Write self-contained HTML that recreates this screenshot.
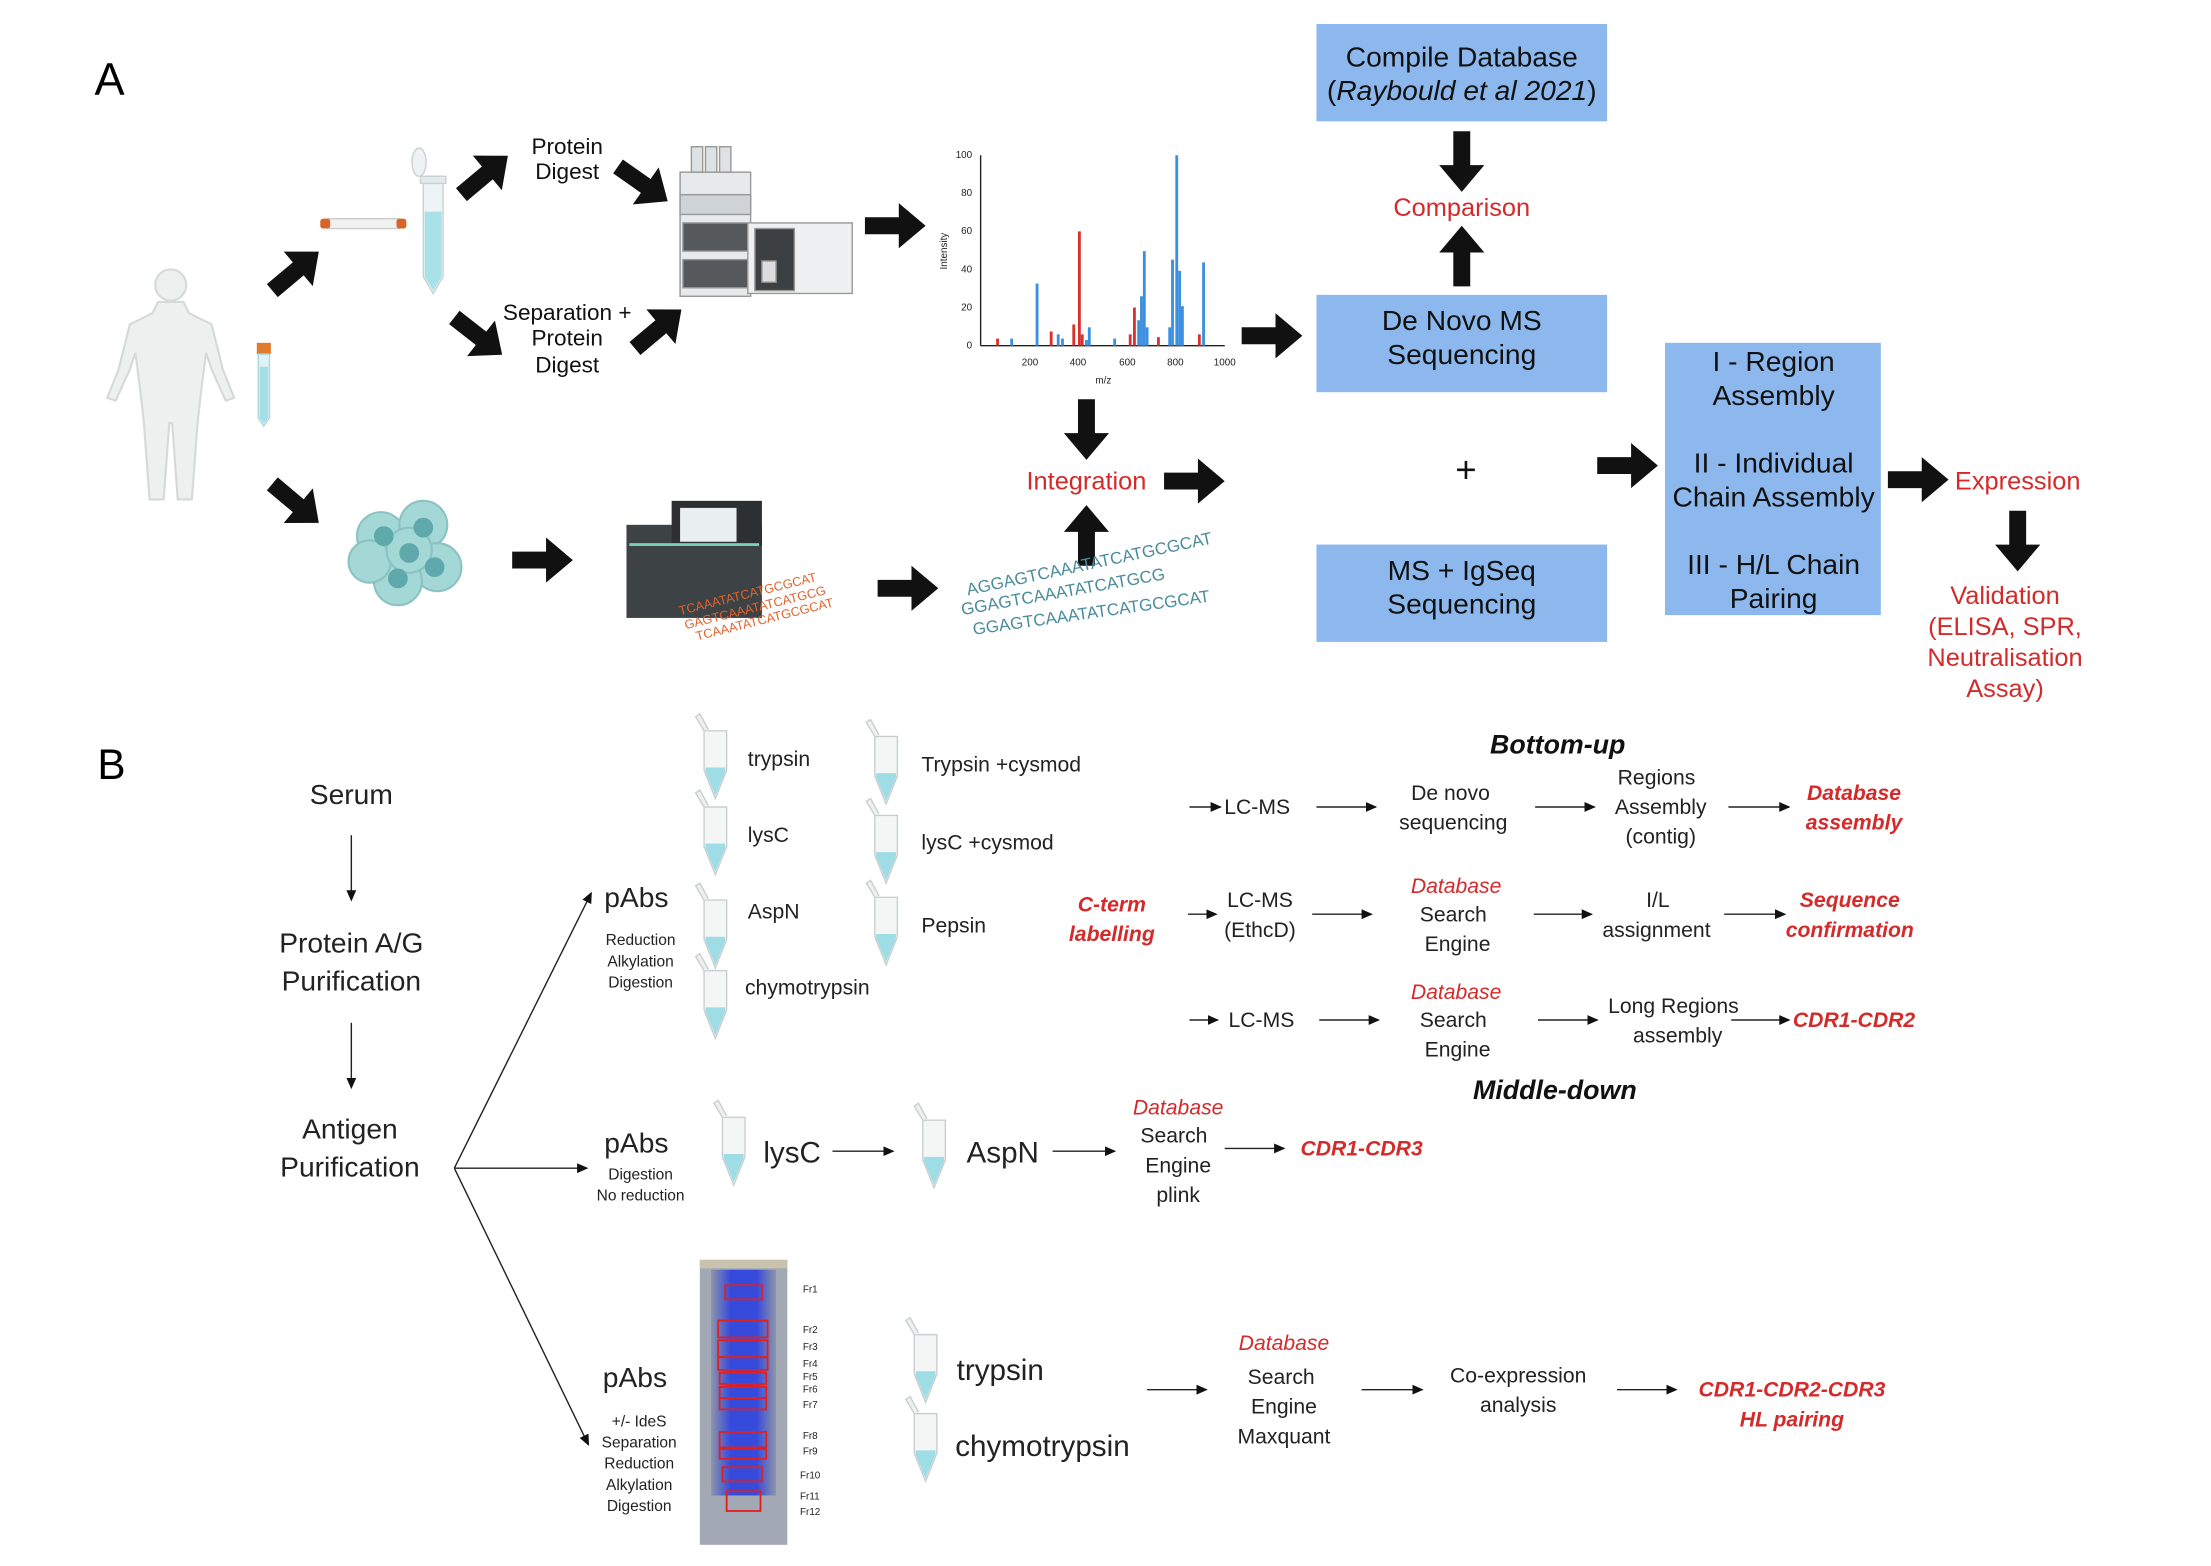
<!DOCTYPE html>
<html><head><meta charset="utf-8"><style>
html,body{margin:0;padding:0;background:#fff}
svg{display:block}
text{font-family:"Liberation Sans",sans-serif}
</style></head><body>
<svg width="2211" height="1566" viewBox="0 0 1567 1110" preserveAspectRatio="none" xmlns="http://www.w3.org/2000/svg">
<defs>
<path id="fa" d="M0,-6 L24,-6 L24,-16 L43,0 L24,16 L24,6 L0,6 Z" fill="#111"/>
<marker id="ah" markerWidth="8" markerHeight="8" refX="7" refY="4" orient="auto" markerUnits="userSpaceOnUse"><path d="M0,0.5 L8,4 L0,7.5 Z" fill="#111"/></marker>
<g id="tube">
<path d="M-8,0 L8,0 L8,28 L0,48 L-8,28 Z" fill="#f4f6f6" stroke="#c9cfd0" stroke-width="1"/>
<path d="M-7,26 L7,26 L7,29 L0,46 L-7,29 Z" fill="#9fdde6"/>
<path d="M-8,0 L-14,-10 L-11,-12 L-5,-1" fill="#eef0f0" stroke="#c9cfd0" stroke-width="1"/>
</g>
</defs>
<rect width="1567" height="1110" fill="#fff"/>

<!-- ===== A ===== -->
<text x="67" y="67" font-size="32">A</text>
<g fill="#eef0f0" stroke="#d5d9da" stroke-width="1.5">
<circle cx="121" cy="202" r="11"/>
<path d="M112,214 L130,214 L134,222 L150,230 L158,262 L166,282 L160,284 L150,262 L146,250 L142,282 L140,300 L136,354 L126,354 L122,300 L120,300 L116,354 L106,354 L102,300 L100,282 L96,250 L92,262 L82,284 L76,282 L84,262 L92,230 L108,222 Z"/>
</g>
<rect x="182" y="243" width="10" height="8" fill="#e07a2e"/>
<path d="M183,251 L191,251 L191,296 L187,302 L183,296 Z" fill="#dff3f6" stroke="#a9d9e0"/>
<path d="M184,260 L190,260 L190,296 L187,300 L184,296 Z" fill="#a4dde6"/>
<rect x="230" y="155" width="55" height="7" rx="3" fill="#f1f1f1" stroke="#ccc"/>
<rect x="227" y="155" width="7" height="7" rx="2" fill="#d8642a"/>
<rect x="281" y="155" width="7" height="7" rx="2" fill="#d8642a"/>
<path d="M300,125 L314,125 L314,196 L307,208 L300,196 Z" fill="#eef4f5" stroke="#c8d2d4"/>
<path d="M301,150 L313,150 L313,196 L307,206 L301,196 Z" fill="#a9e1e8"/>
<path d="M298,125 L316,125 L316,130 L298,130 Z" fill="#e6e9ea" stroke="#c8d2d4"/>
<ellipse cx="297" cy="115" rx="5" ry="10" fill="#eef2f3" stroke="#c8d2d4"/>
<use href="#fa" transform="translate(193,206) rotate(-40)"/>
<use href="#fa" transform="translate(327,138) rotate(-40)"/>
<use href="#fa" transform="translate(438,118) rotate(35)"/>
<use href="#fa" transform="translate(322,225) rotate(38)"/>
<use href="#fa" transform="translate(450,247) rotate(-40)"/>
<use href="#fa" transform="translate(193,343) rotate(40)"/>
<use href="#fa" transform="translate(613,160)"/>
<use href="#fa" transform="translate(880,238)"/>
<use href="#fa" transform="translate(363,397)"/>
<use href="#fa" transform="translate(622,417)"/>
<use href="#fa" transform="translate(825,341)"/>
<use href="#fa" transform="translate(1132,330)"/>
<use href="#fa" transform="translate(1338,340)"/>
<use href="#fa" transform="translate(770,283) rotate(90)"/>
<use href="#fa" transform="translate(770,401) rotate(-90)"/>
<use href="#fa" transform="translate(1036,93) rotate(90)"/>
<use href="#fa" transform="translate(1036,203) rotate(-90)"/>
<use href="#fa" transform="translate(1430,362) rotate(90)"/>

<g font-size="16" text-anchor="middle" fill="#111">
<text x="402" y="109">Protein</text><text x="402" y="127">Digest</text>
<text x="402" y="227">Separation +</text><text x="402" y="245">Protein</text><text x="402" y="264">Digest</text>
</g>
<g stroke="#999" stroke-width="1">
<rect x="482" y="122" width="50" height="88" fill="#e7e9ea"/>
<rect x="482" y="138" width="50" height="14" fill="#cfd3d5"/>
<rect x="484" y="158" width="46" height="20" fill="#55595c"/>
<rect x="484" y="184" width="46" height="20" fill="#55595c"/>
<rect x="530" y="158" width="74" height="50" fill="#eef0f1"/>
<rect x="535" y="162" width="28" height="44" fill="#3c4043"/>
<rect x="540" y="185" width="10" height="15" fill="#ddd"/>
<rect x="490" y="104" width="8" height="18" fill="#dde3e5"/><rect x="500" y="104" width="8" height="18" fill="#dde3e5"/><rect x="510" y="104" width="8" height="18" fill="#dde3e5"/>
</g>
<g font-size="7" fill="#222">
<line x1="695" y1="110" x2="695" y2="245" stroke="#222"/>
<line x1="695" y1="245" x2="868" y2="245" stroke="#222"/>
<text x="689" y="112" text-anchor="end">100</text><text x="689" y="139" text-anchor="end">80</text><text x="689" y="166" text-anchor="end">60</text><text x="689" y="193" text-anchor="end">40</text><text x="689" y="220" text-anchor="end">20</text><text x="689" y="247" text-anchor="end">0</text>
<text x="730" y="259" text-anchor="middle">200</text><text x="764" y="259" text-anchor="middle">400</text><text x="799" y="259" text-anchor="middle">600</text><text x="833" y="259" text-anchor="middle">800</text><text x="868" y="259" text-anchor="middle">1000</text>
<text x="782" y="272" text-anchor="middle">m/z</text>
<text transform="translate(671,178) rotate(-90)" text-anchor="middle">Intensity</text>
</g>
<g stroke-width="2">
<g stroke="#3b8fe0">
<line x1="717" y1="245" x2="717" y2="240"/><line x1="735" y1="245" x2="735" y2="201"/><line x1="750" y1="245" x2="750" y2="237"/><line x1="753" y1="245" x2="753" y2="240"/><line x1="770" y1="245" x2="770" y2="241"/><line x1="790" y1="245" x2="790" y2="240"/><line x1="807" y1="245" x2="807" y2="227"/><line x1="809" y1="245" x2="809" y2="210"/><line x1="811" y1="245" x2="811" y2="178"/><line x1="813" y1="245" x2="813" y2="232"/><line x1="829" y1="245" x2="829" y2="232"/><line x1="831" y1="245" x2="831" y2="184"/><line x1="834" y1="245" x2="834" y2="110"/><line x1="836" y1="245" x2="836" y2="192"/><line x1="838" y1="245" x2="838" y2="217"/><line x1="853" y1="245" x2="853" y2="186"/><line x1="772" y1="245" x2="772" y2="232"/>
</g>
<g stroke="#d9302a">
<line x1="707" y1="245" x2="707" y2="240"/><line x1="745" y1="245" x2="745" y2="235"/><line x1="761" y1="245" x2="761" y2="230"/><line x1="765" y1="245" x2="765" y2="164"/><line x1="767" y1="245" x2="767" y2="237"/><line x1="801" y1="245" x2="801" y2="237"/><line x1="804" y1="245" x2="804" y2="218"/><line x1="821" y1="245" x2="821" y2="239"/><line x1="850" y1="245" x2="850" y2="237"/>
</g>
</g>
<g fill="#8cb8ee">
<rect x="933" y="17" width="206" height="69"/>
<rect x="933" y="209" width="206" height="69"/>
<rect x="933" y="386" width="206" height="69"/>
<rect x="1180" y="243" width="153" height="193"/>
</g>
<g font-size="20" text-anchor="middle" fill="#111">
<text x="1036" y="47">Compile Database</text>
<text x="1036" y="71">(<tspan font-style="italic">Raybould et al 2021</tspan>)</text>
<text x="1036" y="234">De Novo MS</text><text x="1036" y="258">Sequencing</text>
<text x="1036" y="411">MS + IgSeq</text><text x="1036" y="435">Sequencing</text>
<text x="1257" y="263">I - Region</text><text x="1257" y="287">Assembly</text>
<text x="1257" y="335">II - Individual</text><text x="1257" y="359">Chain Assembly</text>
<text x="1257" y="407">III - H/L Chain</text><text x="1257" y="431">Pairing</text>
<text x="1039" y="342" font-size="26">+</text>
</g>
<g font-size="18" text-anchor="middle" fill="#d42a2a">
<text x="1036" y="153">Comparison</text>
<text x="770" y="347">Integration</text>
<text x="1430" y="347">Expression</text>
<text x="1421" y="428">Validation</text><text x="1421" y="450">(ELISA, SPR,</text><text x="1421" y="472">Neutralisation</text><text x="1421" y="494">Assay)</text>
</g>
<g fill="#9ad4d2" stroke="#7fbcbc" stroke-width="1.5" opacity="0.9">
<circle cx="270" cy="380" r="17"/><circle cx="300" cy="372" r="17"/><circle cx="310" cy="402" r="17"/><circle cx="282" cy="412" r="17"/><circle cx="262" cy="398" r="15"/><circle cx="290" cy="390" r="16"/>
</g>
<g fill="#5fa9ad"><circle cx="272" cy="380" r="7"/><circle cx="300" cy="374" r="7"/><circle cx="308" cy="402" r="7"/><circle cx="282" cy="410" r="7"/><circle cx="290" cy="392" r="7"/></g>
<rect x="444" y="372" width="96" height="66" fill="#3d4245"/>
<rect x="476" y="355" width="64" height="32" fill="#2c3032"/>
<rect x="482" y="360" width="40" height="24" fill="#e9eef0"/>
<rect x="446" y="385" width="92" height="2" fill="#7bd1b8"/>
<g font-size="9" fill="#e2622c" font-family="Liberation Mono,monospace">
<text transform="translate(482,436) rotate(-14)">TCAAATATCATGCGCAT</text>
<text transform="translate(486,446) rotate(-14)">GAGTCAAATATCATGCG</text>
<text transform="translate(494,454) rotate(-14)">TCAAATATCATGCGCAT</text>
</g>
<g font-size="12" fill="#4a8c9c" font-family="Liberation Mono,monospace">
<text transform="translate(686,422) rotate(-12)">AGGAGTCAAATATCATGCGCAT</text>
<text transform="translate(682,436) rotate(-10)">GGAGTCAAATATCATGCG</text>
<text transform="translate(690,450) rotate(-8)">GGAGTCAAATATCATGCGCAT</text>
</g>

<!-- ===== B ===== -->
<text x="69" y="552" font-size="30">B</text>
<g font-size="20" text-anchor="middle" fill="#222">
<text x="249" y="570">Serum</text>
<text x="249" y="675">Protein A/G</text><text x="249" y="702">Purification</text>
<text x="248" y="807">Antigen</text><text x="248" y="834">Purification</text>
</g>
<g stroke="#222" stroke-width="1" fill="none" marker-end="url(#ah)">
<line x1="249" y1="592" x2="249" y2="638"/>
<line x1="249" y1="725" x2="249" y2="771"/>
<line x1="322" y1="828" x2="419" y2="633"/>
<line x1="322" y1="828" x2="416" y2="828"/>
<line x1="322" y1="828" x2="417" y2="1024"/>
<line x1="843" y1="572" x2="865" y2="572"/><line x1="933" y1="572" x2="975" y2="572"/><line x1="1088" y1="572" x2="1130" y2="572"/><line x1="1225" y1="572" x2="1268" y2="572"/>
<line x1="842" y1="648" x2="862" y2="648"/><line x1="930" y1="648" x2="972" y2="648"/><line x1="1087" y1="648" x2="1128" y2="648"/><line x1="1222" y1="648" x2="1265" y2="648"/>
<line x1="843" y1="723" x2="863" y2="723"/><line x1="935" y1="723" x2="977" y2="723"/><line x1="1090" y1="723" x2="1132" y2="723"/><line x1="1227" y1="723" x2="1268" y2="723"/>
<line x1="590" y1="816" x2="633" y2="816"/><line x1="746" y1="816" x2="790" y2="816"/><line x1="868" y1="814" x2="910" y2="814"/>
<line x1="813" y1="985" x2="855" y2="985"/><line x1="965" y1="985" x2="1008" y2="985"/><line x1="1146" y1="985" x2="1188" y2="985"/>
</g>
<use href="#tube" transform="translate(507,518)"/>
<use href="#tube" transform="translate(507,572)"/>
<use href="#tube" transform="translate(507,638)"/>
<use href="#tube" transform="translate(507,688)"/>
<use href="#tube" transform="translate(628,522)"/>
<use href="#tube" transform="translate(628,578)"/>
<use href="#tube" transform="translate(628,636)"/>
<use href="#tube" transform="translate(520,792)"/>
<use href="#tube" transform="translate(662,794)"/>
<use href="#tube" transform="translate(656,946)"/>
<use href="#tube" transform="translate(656,1002)"/>

<g fill="#222" text-anchor="middle">
<text x="451" y="643" font-size="20">pAbs</text>
<text x="454" y="670" font-size="11">Reduction</text><text x="454" y="685" font-size="11">Alkylation</text><text x="454" y="700" font-size="11">Digestion</text>
<text x="451" y="817" font-size="20">pAbs</text>
<text x="454" y="836" font-size="11">Digestion</text><text x="454" y="851" font-size="11">No reduction</text>
<text x="450" y="983" font-size="20">pAbs</text>
<text x="453" y="1011" font-size="11">+/- IdeS</text><text x="453" y="1026" font-size="11">Separation</text><text x="453" y="1041" font-size="11">Reduction</text><text x="453" y="1056" font-size="11">Alkylation</text><text x="453" y="1071" font-size="11">Digestion</text>
</g>
<g fill="#222" font-size="15">
<text x="530" y="543">trypsin</text><text x="653" y="547">Trypsin +cysmod</text>
<text x="530" y="597">lysC</text><text x="653" y="602">lysC +cysmod</text>
<text x="530" y="651">AspN</text><text x="653" y="661">Pepsin</text>
<text x="528" y="705">chymotrypsin</text>
<text x="541" y="824" font-size="21">lysC</text><text x="685" y="824" font-size="21">AspN</text>
<text x="678" y="978" font-size="21">trypsin</text><text x="677" y="1032" font-size="21">chymotrypsin</text>
</g>
<g fill="#222" font-size="15" text-anchor="middle">
<text x="891" y="577">LC-MS</text>
<text x="1028" y="567">De novo</text><text x="1030" y="588">sequencing</text>
<text x="1174" y="556">Regions</text><text x="1177" y="577">Assembly</text><text x="1177" y="598">(contig)</text>
<text x="893" y="643">LC-MS</text><text x="893" y="664">(EthcD)</text>
<text x="1030" y="653">Search</text><text x="1033" y="674">Engine</text>
<text x="1175" y="643">I/L</text><text x="1174" y="664">assignment</text>
<text x="894" y="728">LC-MS</text>
<text x="1030" y="728">Search</text><text x="1033" y="749">Engine</text>
<text x="1186" y="718">Long Regions</text><text x="1189" y="739">assembly</text>
<text x="832" y="810">Search</text><text x="835" y="831">Engine</text><text x="835" y="852">plink</text>
<text x="908" y="981">Search</text><text x="910" y="1002">Engine</text><text x="910" y="1023">Maxquant</text>
<text x="1076" y="980">Co-expression</text><text x="1076" y="1001">analysis</text>
</g>
<g fill="#d42a2a" font-size="15" text-anchor="middle" font-style="italic">
<text x="1032" y="633">Database</text><text x="1032" y="708">Database</text><text x="835" y="790">Database</text><text x="910" y="957">Database</text>
</g>
<g fill="#d42a2a" font-size="15" text-anchor="middle" font-style="italic" font-weight="bold">
<text x="1314" y="567">Database</text><text x="1314" y="588">assembly</text>
<text x="788" y="646">C-term</text><text x="788" y="667">labelling</text>
<text x="1311" y="643">Sequence</text><text x="1311" y="664">confirmation</text>
<text x="1314" y="728">CDR1-CDR2</text>
<text x="965" y="819">CDR1-CDR3</text>
<text x="1270" y="990">CDR1-CDR2-CDR3</text><text x="1270" y="1011">HL pairing</text>
</g>
<g fill="#111" font-size="19" text-anchor="middle" font-style="italic" font-weight="bold">
<text x="1104" y="534">Bottom-up</text><text x="1102" y="779">Middle-down</text>
</g>
<defs><linearGradient id="gl" x1="0" x2="1"><stop offset="0" stop-color="#8a93a8"/><stop offset="0.3" stop-color="#2a3fe0"/><stop offset="0.7" stop-color="#2a3fe0"/><stop offset="1" stop-color="#8a93a8"/></linearGradient></defs>
<rect x="496" y="893" width="62" height="202" fill="#a2a8b4"/>
<rect x="504" y="900" width="46" height="160" fill="url(#gl)" opacity="0.9"/>
<rect x="496" y="893" width="62" height="6" fill="#c9c2ad"/>
<g fill="none" stroke="#e02020" stroke-width="1.3">
<rect x="514" y="911" width="26" height="10"/>
<rect x="509" y="936" width="35" height="12"/><rect x="509" y="950" width="35" height="12"/><rect x="509" y="962" width="35" height="9"/><rect x="510" y="973" width="33" height="8"/><rect x="510" y="983" width="33" height="8"/><rect x="510" y="991" width="33" height="8"/><rect x="510" y="1015" width="33" height="11"/><rect x="510" y="1027" width="33" height="7"/><rect x="512" y="1040" width="28" height="10"/><rect x="515" y="1057" width="24" height="14"/>
</g>
<g font-size="7" fill="#222">
<text x="569" y="916">Fr1</text><text x="569" y="945">Fr2</text><text x="569" y="957">Fr3</text><text x="569" y="969">Fr4</text><text x="569" y="978">Fr5</text><text x="569" y="987">Fr6</text><text x="569" y="998">Fr7</text><text x="569" y="1020">Fr8</text><text x="569" y="1031">Fr9</text><text x="567" y="1048">Fr10</text><text x="567" y="1063">Fr11</text><text x="567" y="1074">Fr12</text>
</g>
</svg>
</body></html>
